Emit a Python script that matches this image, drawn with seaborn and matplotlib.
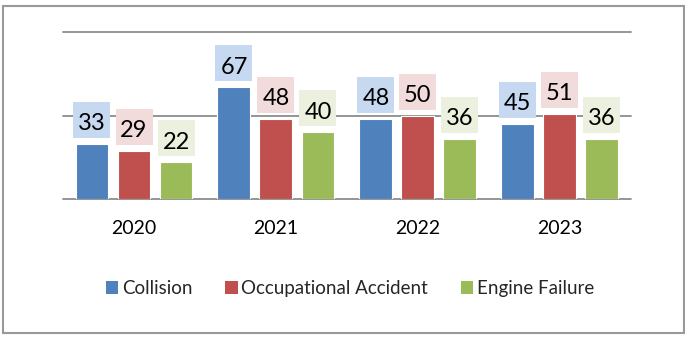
import matplotlib
matplotlib.use("Agg")
import matplotlib.pyplot as plt
import matplotlib.transforms as mtransforms
import seaborn as sns
import pandas as pd
from matplotlib.patches import Rectangle

years = ["2020", "2021", "2022", "2023"]
series = ["Collision", "Occupational Accident", "Engine Failure"]
collision = [33, 67, 48, 45]
occupational = [29, 48, 50, 51]
engine = [22, 40, 36, 36]

bar_colors = ["#4f81bd", "#c0504d", "#9bbb59"]
box_colors = ["#c6d9f1", "#f2dcdb", "#ebf1de"]

rows = []
for s, vals in zip(series, [collision, occupational, engine]):
    for y, v in zip(years, vals):
        rows.append({"Year": y, "Type": s, "Count": v})
df = pd.DataFrame(rows)

sns.set_theme(style="white")
plt.rcParams["font.family"] = ["Lato", "DejaVu Sans"]

fig = plt.figure(figsize=(6.85, 3.38), dpi=100)
ax = fig.add_axes([0.092, 0.411, 0.829, 0.494])

sns.barplot(data=df, x="Year", y="Count", hue="Type", order=years,
            hue_order=series, palette=bar_colors, saturation=1,
            width=0.888, gap=0.216, edgecolor="white", linewidth=0.8,
            ax=ax, legend=False, zorder=3)

ax.set_xlim(-0.5, 3.5)
ax.set_ylim(0, 100)
ax.set_yticks([0, 50, 100])
ax.set_yticklabels([])
ax.tick_params(axis="y", length=0)
ax.tick_params(axis="x", length=0, labelsize=14, pad=15, colors="black")
ax.set_xlabel("")
ax.set_ylabel("")
for sp in ax.spines.values():
    sp.set_visible(False)
for yv in [0, 50, 100]:
    ax.axhline(yv, color="#8c8c8c", lw=1.3, zorder=1, clip_on=False)

# data labels with coloured boxes (box size in pixels, anchored at bar top)
all_vals = [collision, occupational, engine]
for ci, container in enumerate(ax.containers):
    for bar, val in zip(container, all_vals[ci]):
        xc = bar.get_x() + bar.get_width() / 2
        top = bar.get_height()
        tr = mtransforms.Affine2D() + mtransforms.ScaledTranslation(xc, top, ax.transData)
        ax.add_patch(Rectangle((-18.5, 6), 37, 36, transform=tr, fc=box_colors[ci],
                               ec="none", zorder=4, clip_on=False))
        ax.annotate(str(val), (xc, top), xytext=(0, 22), textcoords="offset pixels",
                    ha="center", va="center_baseline", fontsize=17, color="black",
                    zorder=5)

handles = [Rectangle((0, 0), 1, 1, fc=c, ec="none") for c in bar_colors]
fig.legend(handles, series, loc="center", bbox_to_anchor=(0.511, 0.146), ncol=3,
           frameon=False, fontsize=13.5, handlelength=0.65, handleheight=0.65,
           handletextpad=0.2, columnspacing=1.75)

fig.patches.append(Rectangle((3 / 685, 1 - 333 / 338), 680.5 / 685, 327.5 / 338,
                             transform=fig.transFigure, fill=False,
                             ec="#999999", lw=1.5))

fig.savefig("out.png", dpi=100)
